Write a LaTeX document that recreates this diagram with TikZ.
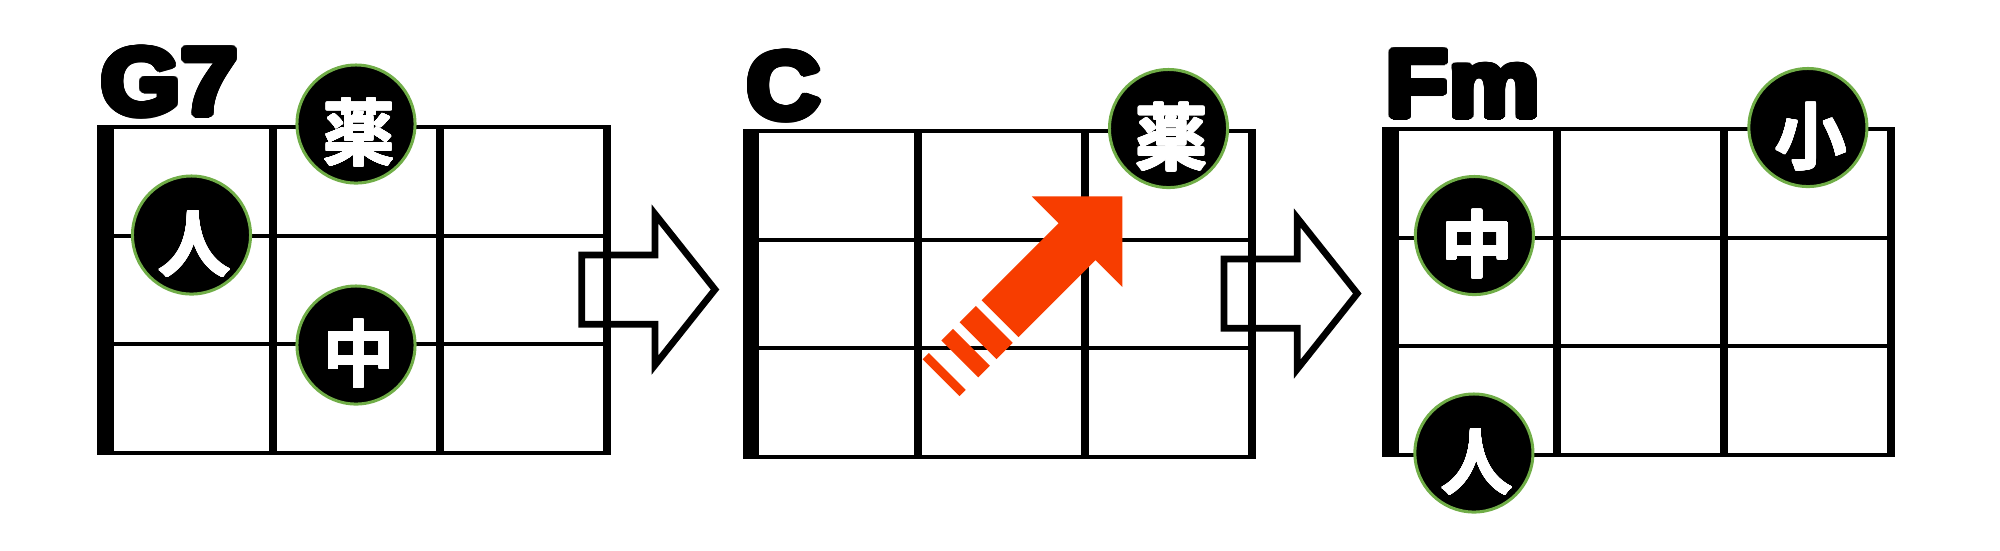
\documentclass[tikz,border=0pt]{standalone}
\usepackage{fontspec}
\usepackage[copies]{contour}
\newfontfamily\chordfont{Liberation Sans Bold}[FakeStretch=1.08]
\newfontfamily\kanjifont{Noto Sans CJK JP Bold}
\usetikzlibrary{calc}

\definecolor{fingergreen}{RGB}{112,173,71}
\definecolor{arrowred}{RGB}{247,61,0}

\contournumber{32}

% chord name, made heavier with a black contour
\newcommand{\chordtext}[1]{\contourlength{0.035cm}\contour{black}{#1}}
% finger letter, set a bit low and right in its circle
\newcommand{\fingerchar}[1]{\contourlength{0.008cm}%
    \smash{\raisebox{-0.36cm}{\hspace*{0.06cm}\contour{white}{#1}}}}

\tikzset{
    fretline/.style={line width=0.04cm},
    stringline/.style={line width=0.08cm},
    nutline/.style={line width=0.165cm},
    finger/.style={
        circle,
        fill=black,
        draw=fingergreen,
        line width=0.03cm,
        minimum size=1.18cm,
        inner sep=0pt,
        text=white,
        font=\kanjifont\fontsize{20.5pt}{20.5pt}\selectfont
    },
    chordname/.style={
        anchor=base west,
        inner sep=0pt,
        font=\chordfont\fontsize{27pt}{27pt}\selectfont
    },
    nextarrow/.style={
        draw=black,
        fill=white,
        line width=0.067cm,
        miter limit=10
    }
}

\begin{document}
\begin{tikzpicture}[x=0.01cm, y=-0.01cm]

    \useasboundingbox (0,0) rectangle (2000,550);

    % arrows between the charts
    \coordinate (next1) at (581.7,255);
    \draw[nextarrow]
        (next1) -- ++(73.3,0) -- ++(0,-41) -- ++(60,75.5) --
        ++(-60,75.5) -- ++(0,-40.7) -- ++(-73.3,0) -- cycle;

    \coordinate (next2) at (1224,259);
    \draw[nextarrow]
        (next2) -- ++(73.3,0) -- ++(0,-41) -- ++(60,75.5) --
        ++(-60,75.5) -- ++(0,-40.7) -- ++(-73.3,0) -- cycle;

    % G7
    \begin{scope}[shift={(105.5,127)}]
        \foreach \row in {0,1,2,3}
            \draw[fretline] (0,\row*108.6) -- (501,\row*108.6);
        \foreach \col in {1,2,3}
            \draw[stringline] (\col*167,-2) -- (\col*167,327.8);
        \draw[nutline] (0,-2) -- (0,327.8);

        \node[chordname] (g7-name) at (-5,-12.5) {\chordtext{G7}};

        \node[finger] (g7-yaku) at (250.5,-3) {\fingerchar{薬}};
        \node[finger] (g7-hito) at (86,108) {\fingerchar{人}};
        \node[finger] (g7-naka) at (250.5,218) {\fingerchar{中}};
    \end{scope}

    % C
    \begin{scope}[shift={(751,131)}]
        \foreach \row in {0,1,2,3}
            \draw[fretline] (0,\row*108.6) -- (501,\row*108.6);
        \foreach \col in {1,2,3}
            \draw[stringline] (\col*167,-2) -- (\col*167,327.8);
        \draw[nutline] (0,-2) -- (0,327.8);

        \node[chordname] (c-name) at (-5,-12.5) {\chordtext{C}};

        \node[finger] (c-yaku) at (417.5,-2.5) {\fingerchar{薬}};
    \end{scope}

    % slide of the ring finger
    \begin{scope}[shift={(1000,318.7)}, rotate=45]
        \fill[arrowred]
            (0,-26) -- (109,-26) -- (109,-64) -- (173,0) --
            (109,64) -- (109,26) -- (0,26) -- cycle;
        \fill[arrowred] (-31,-26) rectangle (-8,26);
        \fill[arrowred] (-56.8,-26) rectangle (-40.5,26);
        \fill[arrowred] (-83.4,-26) rectangle (-74.5,26);
    \end{scope}

    % Fm
    \begin{scope}[shift={(1390.4,129)}]
        \foreach \row in {0,1,2,3}
            \draw[fretline] (0,\row*108.6) -- (501,\row*108.6);
        \foreach \col in {1,2,3}
            \draw[stringline] (\col*167,-2) -- (\col*167,327.8);
        \draw[nutline] (0,-2) -- (0,327.8);

        \node[chordname] (fm-name) at (-5,-12.5) {\chordtext{Fm}};

        \node[finger] (fm-ko) at (417.5,-1.5) {\fingerchar{小}};
        \node[finger] (fm-naka) at (84,106.5) {\fingerchar{中}};
        \node[finger] (fm-hito) at (83.5,324) {\fingerchar{人}};
    \end{scope}

\end{tikzpicture}
\end{document}
